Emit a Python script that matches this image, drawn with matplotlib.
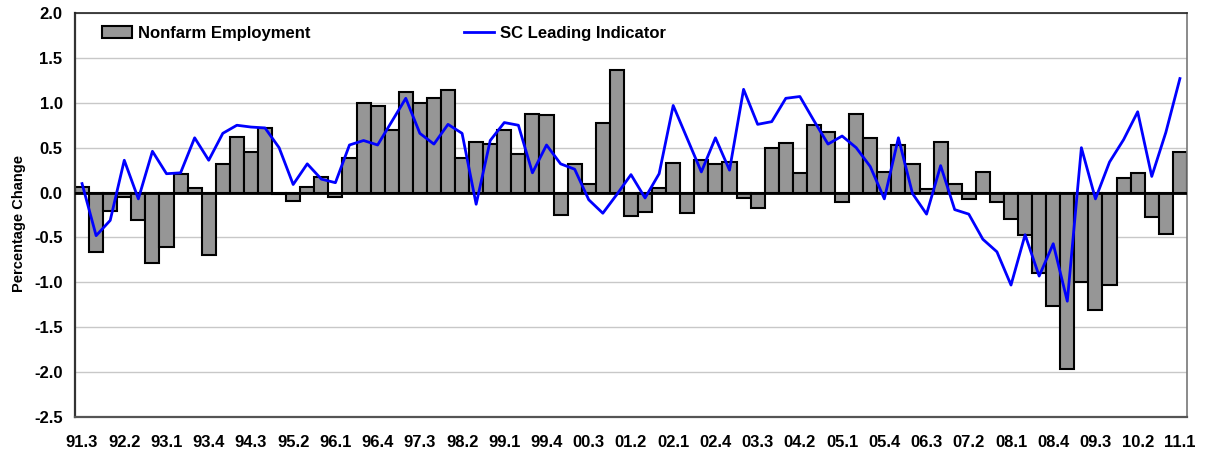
import numpy as np
import matplotlib
matplotlib.use("Agg")
import matplotlib.pyplot as plt
from matplotlib.patches import Patch
from matplotlib.lines import Line2D

plt.rcParams["font.family"] = ["Liberation Sans", "DejaVu Sans"]
plt.rcParams["font.weight"] = "bold"

# quarters 91.3 .. 11.1
quarters = []
y, q = 1991, 3
while (y, q) <= (2011, 1):
    quarters.append(f"{y % 100:02d}.{q}")
    q += 1
    if q > 4:
        q, y = 1, y + 1

nonfarm = [0.06, -0.66, -0.20, -0.05, -0.31, -0.78, -0.61, 0.21, 0.05, -0.70,
           0.32, 0.62, 0.45, 0.72, -0.02, -0.09, 0.06, 0.17, -0.05, 0.39,
           1.00, 0.96, 0.70, 1.12, 1.00, 1.05, 1.14, 0.39, 0.56, 0.54,
           0.70, 0.43, 0.87, 0.86, -0.25, 0.32, 0.09, 0.78, 1.37, -0.26,
           -0.22, 0.05, 0.33, -0.23, 0.36, 0.32, 0.34, -0.06, -0.17, 0.50,
           0.55, 0.22, 0.75, 0.68, -0.10, 0.88, 0.61, 0.23, 0.53, 0.32,
           0.04, 0.56, 0.10, -0.07, 0.23, -0.11, -0.29, -0.47, -0.90, -1.26,
           -1.97, -1.00, -1.31, -1.03, 0.16, 0.22, -0.27, -0.46, 0.45]

leading = [0.10, -0.48, -0.31, 0.36, -0.07, 0.46, 0.21, 0.22, 0.61, 0.36,
           0.66, 0.75, 0.73, 0.72, 0.50, 0.09, 0.32, 0.15, 0.11, 0.53,
           0.58, 0.53, 0.79, 1.05, 0.66, 0.54, 0.76, 0.66, -0.13, 0.58,
           0.78, 0.75, 0.22, 0.53, 0.32, 0.26, -0.08, -0.23, -0.02, 0.20,
           -0.06, 0.21, 0.97, 0.60, 0.23, 0.61, 0.25, 1.15, 0.76, 0.79,
           1.05, 1.07, 0.80, 0.54, 0.63, 0.50, 0.29, -0.07, 0.61, -0.01,
           -0.24, 0.30, -0.19, -0.24, -0.52, -0.66, -1.03, -0.47, -0.93, -0.57,
           -1.21, 0.50, -0.07, 0.34, 0.59, 0.90, 0.18, 0.67, 1.27]

yticks = [2.0, 1.5, 1.0, 0.5, 0.0, -0.5, -1.0, -1.5, -2.0, -2.5]

fig = plt.figure(figsize=(12.06, 4.57), dpi=100)
ax = fig.add_axes([0.0622, 0.0875, 0.922, 0.884])

x = np.arange(len(quarters))
ax.bar(x, nonfarm, width=1.0, color="#969696", edgecolor="black",
       linewidth=1.5, zorder=2)
ax.axhline(0, color="black", linewidth=2, zorder=3)
ax.plot(x, leading, color="#0000ff", linewidth=2, zorder=4)

ax.set_xlim(-0.5, len(quarters) - 0.5)
ax.set_ylim(-2.5, 2.0)
ax.set_yticks(yticks)
ax.set_yticklabels([f"{v:.1f}" for v in yticks], fontsize=12, fontweight="bold")
ax.set_xticks(x[::3])
ax.set_xticklabels(quarters[::3], fontsize=12, fontweight="bold")
ax.tick_params(axis="both", length=0)
ax.tick_params(axis="x", pad=13)
ax.tick_params(axis="y", pad=9)
ax.yaxis.grid(True, color="#c8c8c8", linewidth=1)
ax.set_axisbelow(True)

ax.spines["left"].set_color("#333333")
ax.spines["left"].set_linewidth(1.6)
ax.spines["bottom"].set_color("#555555")
ax.spines["bottom"].set_linewidth(1.6)
ax.spines["top"].set_color("#222222")
ax.spines["top"].set_linewidth(1.2)
ax.spines["right"].set_color("#777777")
ax.spines["right"].set_linewidth(1.2)

ax.set_ylabel("Percentage Change", fontsize=10.5, fontweight="bold")
ax.yaxis.set_label_coords(-0.044, 0.48)

handles = [Patch(facecolor="#969696", edgecolor="black", linewidth=1.5),
           Line2D([0], [0], color="#0000ff", linewidth=2)]
ax.legend(handles, ["Nonfarm Employment", "SC Leading Indicator"], ncol=2,
          loc="upper left", bbox_to_anchor=(0.011, 1.005), frameon=False,
          prop={"size": 12, "weight": "bold"}, columnspacing=9.2,
          handlelength=1.8, handletextpad=0.35)

fig.savefig("out.png", dpi=100)
